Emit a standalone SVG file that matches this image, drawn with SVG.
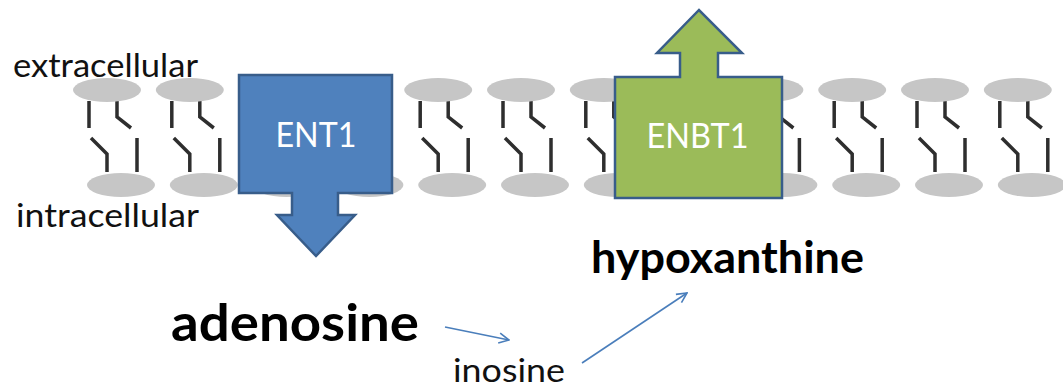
<svg xmlns="http://www.w3.org/2000/svg" xmlns:xlink="http://www.w3.org/1999/xlink" width="1063" height="390" viewBox="0 0 1063 390">
  <style>
    .head { fill: #c6c6c6; }
    .tail { fill: none; stroke: #2e2e2e; stroke-width: 3.5; stroke-linejoin: miter; }
    .transporter { stroke: #385D8A; stroke-width: 2.5; stroke-linejoin: miter; }
    .ent { fill: #4F81BD; }
    .enbt { fill: #9BBB59; }
    .tlabel { font-family: Lato, "Open Sans", "Liberation Sans", sans-serif; font-size: 34px; fill: #ffffff; }
    .side { font-family: Lato, "Open Sans", "Liberation Sans", sans-serif; font-size: 33px; fill: #111111; }
    .metab { font-family: Lato, "Open Sans", "Liberation Sans", sans-serif; font-weight: bold; fill: #000000; }
    .flow { fill: none; stroke: #4A7EBB; stroke-width: 1.6; }
  </style>
  <defs>
    <!-- one phospholipid pair of the bilayer, drawn around x = 0 -->
    <g id="lipid">
      <path class="tail" d="M-18,101 V128 M10,101 V117 L24,128 M-16,138 L0,154 V172 M30,138 V172"/>
      <ellipse class="head" cx="0" cy="90" rx="34" ry="12"/>
      <ellipse class="head" cx="14" cy="185" rx="34" ry="12"/>
    </g>
    <marker id="open-arrow" viewBox="0 0 12 12" refX="11" refY="6" markerWidth="12" markerHeight="12" markerUnits="userSpaceOnUse" orient="auto">
      <path d="M1,1 L11,6 L1,11" fill="none" stroke="#4A7EBB" stroke-width="1.6"/>
    </marker>
  </defs>

  <rect width="1063" height="390" fill="#ffffff"/>

  <!-- membrane bilayer -->
  <g id="membrane">
    <use xlink:href="#lipid" x="107"/>
    <use xlink:href="#lipid" x="189.8"/>
    <use xlink:href="#lipid" x="272.6"/>
    <use xlink:href="#lipid" x="355.4"/>
    <use xlink:href="#lipid" x="438.2"/>
    <use xlink:href="#lipid" x="521"/>
    <use xlink:href="#lipid" x="603.8"/>
    <use xlink:href="#lipid" x="686.6"/>
    <use xlink:href="#lipid" x="769.4"/>
    <use xlink:href="#lipid" x="852.2"/>
    <use xlink:href="#lipid" x="935"/>
    <use xlink:href="#lipid" x="1017.8"/>
  </g>

  <g id="label-extracellular">
    <text class="side" x="13" y="77" textLength="185" lengthAdjust="spacingAndGlyphs">extracellular</text>
  </g>
  <g id="label-intracellular">
    <text class="side" x="16" y="227" textLength="183" lengthAdjust="spacingAndGlyphs">intracellular</text>
  </g>

  <!-- ENT1: inward transporter -->
  <g id="ENT1">
    <path class="transporter ent" d="M239,75 H392 V193 H338 V215 H355 L316,256 L277,215 H292 V193 H239 Z"/>
    <text class="tlabel" x="316" y="147" text-anchor="middle" textLength="81" lengthAdjust="spacingAndGlyphs">ENT1</text>
  </g>

  <!-- ENBT1: outward transporter -->
  <g id="ENBT1">
    <path class="transporter enbt" d="M615,77 H680 V53 H657 L699,10 L742,53 H718 V77 H782 V198 H615 Z"/>
    <text class="tlabel" x="697.5" y="148" text-anchor="middle" textLength="102" lengthAdjust="spacingAndGlyphs">ENBT1</text>
  </g>

  <g id="adenosine">
    <text class="metab" x="171" y="341" font-size="52" textLength="248" lengthAdjust="spacingAndGlyphs">adenosine</text>
  </g>
  <g id="inosine">
    <text class="side" x="453" y="382" font-size="36" textLength="112" lengthAdjust="spacingAndGlyphs">inosine</text>
  </g>
  <g id="hypoxanthine">
    <text class="metab" x="591" y="273" font-size="44" textLength="273" lengthAdjust="spacingAndGlyphs">hypoxanthine</text>
  </g>

  <!-- metabolic conversions -->
  <g id="connectors">
    <line class="flow" x1="445" y1="327" x2="509" y2="340" marker-end="url(#open-arrow)"/>
    <line class="flow" x1="582" y1="363" x2="687" y2="293" marker-end="url(#open-arrow)"/>
  </g>
</svg>
